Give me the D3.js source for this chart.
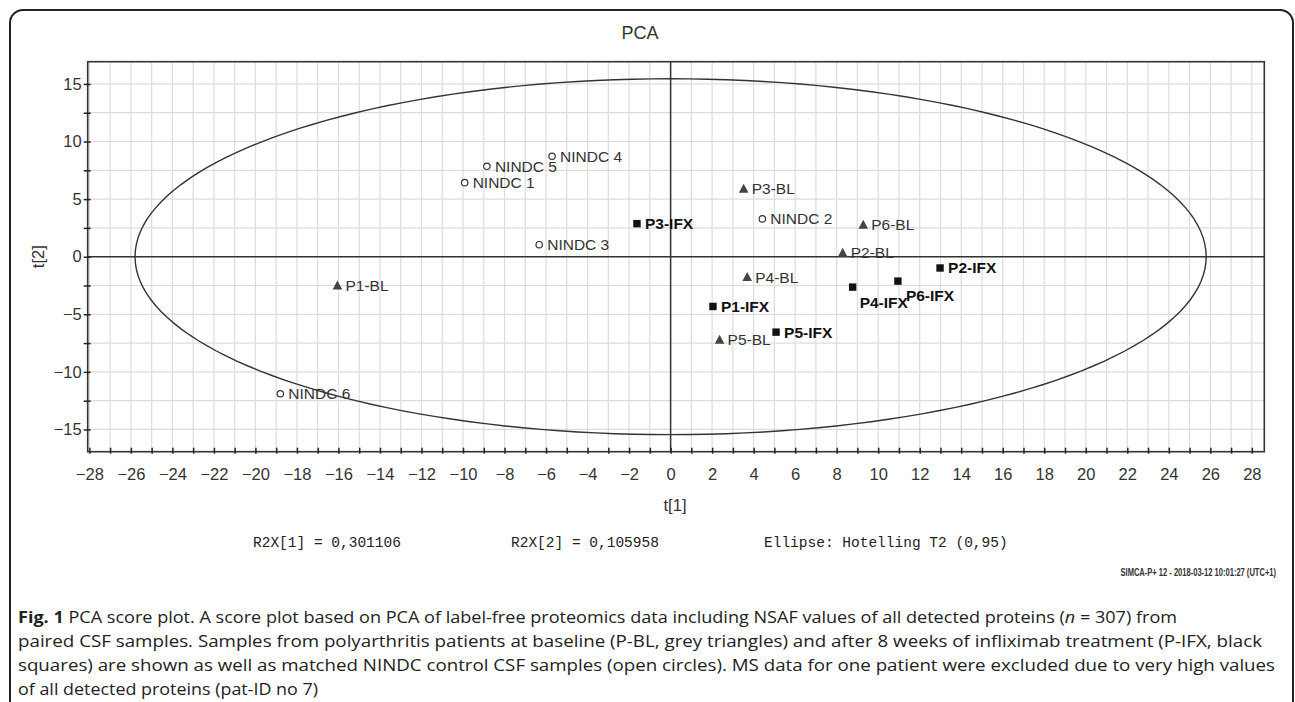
<!DOCTYPE html>
<html><head><meta charset="utf-8">
<script src="https://cdn.jsdelivr.net/npm/d3@7"></script>
<style>html,body{margin:0;padding:0;background:#fff;}svg{display:block;}</style>
</head><body>
<script>
// ---- data ----
const sampleLabels = ["NINDC 1","NINDC 2","NINDC 3","NINDC 4","NINDC 5","NINDC 6",
  "P1-BL","P2-BL","P3-BL","P4-BL","P5-BL","P6-BL",
  "P1-IFX","P2-IFX","P3-IFX","P4-IFX","P5-IFX","P6-IFX"];
const sampleGroups = ["NINDC","NINDC","NINDC","NINDC","NINDC","NINDC",
  "BL","BL","BL","BL","BL","BL",
  "IFX","IFX","IFX","IFX","IFX","IFX"];
const t1Values = [-9.92, 4.42, -6.33, -5.71, -8.85, -18.8,
  -16.05, 8.29, 3.52, 3.69, 2.36, 9.28,
  2.04, 12.98, -1.62, 8.77, 5.08, 10.95];
const t2Values = [6.43, 3.28, 1.04, 8.72, 7.85, -11.9,
  -2.52, 0.32, 5.89, -1.77, -7.22, 2.75,
  -4.32, -0.98, 2.87, -2.64, -6.55, -2.12];
const xTickLabels = d3.range(-28, 29, 2);
const yTickLabels = [-15, -10, -5, 0, 5, 10, 15];
const ellipseT1 = 25.8;   // Hotelling T2 (0.95) semi-axis t[1]
const ellipseT2 = 15.45;  // semi-axis t[2]
const footTexts = ["R2X[1] = 0,301106", "R2X[2] = 0,105958", "Ellipse: Hotelling T2 (0,95)"];
const stampText = "SIMCA-P+ 12 - 2018-03-12 10:01:27 (UTC+1)";

// ---- layout ----
const W = 1295, H = 702;
const svg = d3.select("body").append("svg").attr("width", W).attr("height", H);
const x = d3.scaleLinear().domain([-28.08, 28.6]).range([87.7, 1264.3]);
const y = d3.scaleLinear().domain([-16.93, 16.93]).range([451.7, 61.7]);
const sans = "'Liberation Sans', Arial, sans-serif";

// outer rounded frame
svg.append("rect").attr("x", 10).attr("y", 10).attr("width", 1283).attr("height", 720)
  .attr("rx", 13).attr("fill", "none").attr("stroke", "#222").attr("stroke-width", 2);

// grid
const g = svg.append("g");
g.selectAll(".gv").data(d3.range(-28, 29, 1)).join("line")
  .attr("x1", d => x(d)).attr("x2", d => x(d)).attr("y1", y.range()[1]).attr("y2", y.range()[0])
  .attr("stroke", "#dcdcdc").attr("stroke-width", 1.2);
g.selectAll(".gh").data(d3.range(-15, 15.1, 2.5)).join("line")
  .attr("x1", x.range()[0]).attr("x2", x.range()[1]).attr("y1", d => y(d)).attr("y2", d => y(d))
  .attr("stroke", "#dcdcdc").attr("stroke-width", 1.2);

// zero lines
g.append("line").attr("x1", x(0)).attr("x2", x(0)).attr("y1", y.range()[1]).attr("y2", y.range()[0])
  .attr("stroke", "#333").attr("stroke-width", 1.5);
g.append("line").attr("x1", x.range()[0]).attr("x2", x.range()[1]).attr("y1", y(0)).attr("y2", y(0))
  .attr("stroke", "#333").attr("stroke-width", 1.5);

// ellipse
const ang = d3.range(0, 361, 2).map(a => a * Math.PI / 180);
g.append("path").datum(ang)
  .attr("d", d3.line().x(a => x(ellipseT1 * Math.cos(a))).y(a => y(ellipseT2 * Math.sin(a))))
  .attr("fill", "none").attr("stroke", "#333").attr("stroke-width", 1.4);

// frame
svg.append("rect").attr("x", x.range()[0]).attr("y", y.range()[1])
  .attr("width", x.range()[1] - x.range()[0]).attr("height", y.range()[0] - y.range()[1])
  .attr("fill", "none").attr("stroke", "#333").attr("stroke-width", 1.6);

// axes
const xAxis = svg.append("g").attr("transform", `translate(0,${y.range()[0]})`)
  .call(d3.axisBottom(x).tickValues(d3.range(-28, 29, 1)).tickSize(0).tickFormat(""));
xAxis.select(".domain").remove();
xAxis.selectAll(".tick").append("line").attr("y1", -4).attr("y2", 2).attr("stroke", "#222").attr("stroke-width", 1.5);
const xLab = svg.append("g").attr("transform", `translate(0,${y.range()[0]})`)
  .call(d3.axisBottom(x).tickValues(xTickLabels).tickSize(0).tickPadding(17).tickFormat(d3.format("d")));
xLab.select(".domain").remove();
xLab.selectAll("text").attr("font-family", sans).attr("font-size", 16.5).attr("fill", "#333");

const yAxis = svg.append("g").attr("transform", `translate(${x.range()[0]},0)`)
  .call(d3.axisLeft(y).tickValues(d3.range(-15, 15.1, 2.5)).tickSize(0).tickFormat(""));
yAxis.select(".domain").remove();
yAxis.selectAll(".tick").append("line").attr("x1", -4).attr("x2", 3).attr("stroke", "#222").attr("stroke-width", 1.5);
const yLab = svg.append("g").attr("transform", `translate(${x.range()[0]},0)`)
  .call(d3.axisLeft(y).tickValues(yTickLabels).tickSize(0).tickPadding(6).tickFormat(d3.format("d")));
yLab.select(".domain").remove();
yLab.selectAll("text").attr("font-family", sans).attr("font-size", 16.5).attr("fill", "#333");

// axis titles & title
svg.append("text").attr("x", 640).attr("y", 39).attr("text-anchor", "middle")
  .attr("font-family", sans).attr("font-size", 18).attr("fill", "#333").text("PCA");
svg.append("text").attr("x", 675).attr("y", 511).attr("text-anchor", "middle")
  .attr("font-family", sans).attr("font-size", 16.5).attr("fill", "#333").text("t[1]");
svg.append("text").attr("transform", `translate(44,${y(0)}) rotate(-90)`).attr("text-anchor", "middle")
  .attr("font-family", sans).attr("font-size", 16.5).attr("fill", "#333").text("t[2]");

// points
const pts = sampleLabels.map((l, i) => ({label: l, grp: sampleGroups[i], t1: t1Values[i], t2: t2Values[i]}));
const below = {"P4-IFX": [7, 15], "P6-IFX": [8, 14]};
const pg = svg.append("g");
pts.forEach(p => {
  const cx = x(p.t1), cy = y(p.t2);
  if (p.grp === "NINDC") {
    pg.append("circle").attr("cx", cx).attr("cy", cy).attr("r", 3.2)
      .attr("fill", "#fff").attr("stroke", "#333").attr("stroke-width", 1.2);
  } else if (p.grp === "BL") {
    pg.append("path").attr("d", `M${cx},${cy-5.2}L${cx+4.8},${cy+3.8}L${cx-4.8},${cy+3.8}Z`).attr("fill", "#444");
  } else {
    pg.append("rect").attr("x", cx - 3.7).attr("y", cy - 3.7).attr("width", 7.4).attr("height", 7.4).attr("fill", "#111");
  }
  const off = below[p.label] || [8, 0];
  pg.append("text").attr("x", cx + off[0]).attr("y", cy + off[1]).attr("dy", "0.35em")
    .attr("font-family", sans).attr("font-size", 15.5)
    .attr("font-weight", p.grp === "IFX" ? "bold" : "normal")
    .attr("fill", p.grp === "IFX" ? "#111" : "#333").text(p.label);
});

// footer texts
const mono = "'Liberation Mono', 'Courier New', monospace";
[253, 511, 764].forEach((fx, i) => {
  svg.append("text").attr("x", fx).attr("y", 547).attr("font-family", mono).attr("font-size", 14.5)
    .attr("fill", "#222").text(footTexts[i]);
});
svg.append("text").attr("transform", "translate(1276,576) scale(0.72,1)").attr("text-anchor", "end")
  .attr("font-family", sans).attr("font-size", 10.5).attr("font-weight", "bold").attr("fill", "#333")
  .text(stampText);

// caption
const cap = "'Open Sans', 'Noto Sans', sans-serif";
const capLines = [
  {y: 623, w: 1159, parts: [["Fig. 1", "bold"], [" PCA score plot. A score plot based on PCA of label-free proteomics data including NSAF values of all detected proteins (", "normal"], ["n", "italic"], [" = 307) from", "normal"]]},
  {y: 647, w: 1244, parts: [["paired CSF samples. Samples from polyarthritis patients at baseline (P-BL, grey triangles) and after 8 weeks of infliximab treatment (P-IFX, black", "normal"]]},
  {y: 671, w: 1257, parts: [["squares) are shown as well as matched NINDC control CSF samples (open circles). MS data for one patient were excluded due to very high values", "normal"]]},
  {y: 695, w: 300, parts: [["of all detected proteins (pat-ID no 7)", "normal"]]}
];
capLines.forEach(L => {
  const t = svg.append("text").attr("x", 18).attr("y", L.y).attr("font-family", cap).attr("font-size", 16.5)
    .attr("fill", "#222").attr("textLength", L.w).attr("lengthAdjust", "spacingAndGlyphs");
  L.parts.forEach(([s, st]) => {
    const ts = t.append("tspan").text(s);
    if (st === "bold") ts.attr("font-weight", "bold");
    if (st === "italic") ts.attr("font-style", "italic");
  });
});
</script>
</body></html>
